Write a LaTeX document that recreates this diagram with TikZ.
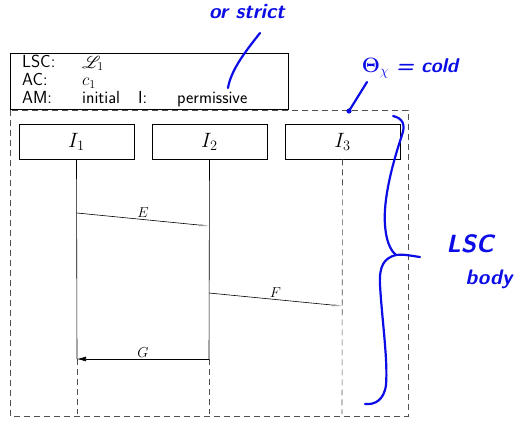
\documentclass[tikz,border=0pt]{standalone}
\usepackage{amsmath}
\usepackage{fontspec}
\usepackage{mathrsfs}
\usetikzlibrary{arrows.meta}
\definecolor{handblue}{RGB}{12,12,230}
\definecolor{dashgray}{RGB}{80,80,80}
\tikzset{
  frame/.style={draw=dashgray, line width=0.8pt, dash pattern=on 6pt off 4pt},
  instbox/.style={draw, line width=0.6pt, minimum width=115pt, minimum height=35pt, inner sep=0pt, font=\fontsize{21}{21}\selectfont},
  life/.style={line width=0.6pt},
  lifedash/.style={line width=0.6pt, draw=dashgray, dash pattern=on 6pt off 4pt},
  hdrtext/.style={anchor=base west, inner sep=0pt, text height=12pt, text depth=0pt, font=\sffamily\fontsize{17.5}{17.5}\selectfont},
  coldmsg/.style={line width=0.6pt, -{Stealth[length=10pt,width=2.5pt,open,color=gray!70]}},
  hotmsg/.style={line width=0.6pt, -{Latex[length=9pt,width=5pt]}},
  msglabel/.style={midway, above, inner sep=1.5pt, font=\fontsize{14}{14}\selectfont},
  ink/.style={draw=handblue, line width=2.2pt, line cap=round, line join=round},
  inktext/.style={text=handblue, inner sep=0pt, font=\sffamily\bfseries\itshape},
}
\begin{document}
\begin{tikzpicture}[x=1pt,y=-1pt]
\useasboundingbox (0,0) rectangle (514,421);

% LSC body frame
\draw[frame] (10,110) rectangle (408,416);

% header with LSC name, activation condition and mode
\node[draw, line width=0.6pt, minimum width=278pt, minimum height=56pt, inner sep=0pt, anchor=north west] (hdr) at (10,53) {};
\node[hdrtext] (lsckey) at (22,67) {LSC:};
\node[hdrtext] (lscval) at (82,68) {$\mathscr{L}_1$};
\node[hdrtext] (ackey) at (22,85.5) {AC:};
\node[hdrtext] (acval) at (82,85.5) {$c_1$};
\node[hdrtext] (amkey) at (22,103) {AM:};
\node[hdrtext] (amval) at (82,103) {initial};
\node[hdrtext] (ikey) at (138,103) {I:};
\node[hdrtext] (ival) at (177,103) {permissive};

% instances
\node[instbox] (i1) at (76.5,141.5) {$I_1$};
\node[instbox] (i2) at (209.5,141.5) {$I_2$};
\node[instbox] (i3) at (342.5,141.5) {$I_3$};

% lifeline points
\coordinate (e1) at (77,213);
\coordinate (e2) at (209,226);
\coordinate (f2) at (209,293);
\coordinate (f3) at (342,306);
\coordinate (g2) at (209,359);
\coordinate (g1) at (77,359);
\coordinate (b1) at (77,414);
\coordinate (b2) at (209,414);
\coordinate (b3) at (342,414);

% lifelines: hot part solid, cold part dashed
\draw[life] (i1.south) -- (g1);
\draw[lifedash] (g1) -- (b1);
\draw[life] (i2.south) -- (g2);
\draw[lifedash] (g2) -- (b2);
\draw[lifedash] (i3.south) -- (b3);

% messages
\draw[coldmsg] (e1) -- node[msglabel] {$E$} (e2);
\draw[coldmsg] (f2) -- node[msglabel] {$F$} (f3);
\draw[hotmsg] (g2) -- node[msglabel] {$G$} (g1);

% handwritten notes
\node[inktext, font=\sffamily\bfseries\itshape\fontsize{21}{21}\selectfont] (strict) at (247,12) {or strict};
\coordinate (sp1) at (260,33);
\coordinate (sp2) at (228,88);
\draw[ink] (sp1) .. controls (245,52) and (231,70) .. (sp2);

\node[inktext, font=\sffamily\bfseries\itshape\fontsize{20}{20}\selectfont] (theta) at (410,68) {$\boldsymbol{\Theta}_{\chi}$ = cold};
\coordinate (tp1) at (367,82);
\coordinate (tp2) at (349,111);
\draw[ink] (tp1) -- (tp2);
\fill[handblue] (tp2) circle (2.6pt);

% brace around the body
\coordinate (bt) at (393,116);
\coordinate (bm) at (396,255);
\coordinate (bb) at (365,404);
\coordinate (btip) at (420,257);
\draw[ink] (bt) .. controls (402,118) and (406,124) .. (402,135)
  .. controls (392,165) and (383,200) .. (385,225)
  .. controls (386,240) and (390,250) .. (bm);
\draw[ink] (bm) .. controls (384,258) and (379,266) .. (380,285)
  .. controls (382,320) and (388,360) .. (386,385)
  .. controls (384,400) and (375,405) .. (bb);
\draw[ink] (bm) .. controls (405,254) and (412,256) .. (btip);

\node[inktext, font=\sffamily\bfseries\itshape\fontsize{25}{25}\selectfont] (lscb) at (470,244) {LSC};
\node[inktext, font=\sffamily\bfseries\itshape\fontsize{21}{21}\selectfont] (body) at (489,279) {body};
\end{tikzpicture}
\end{document}
